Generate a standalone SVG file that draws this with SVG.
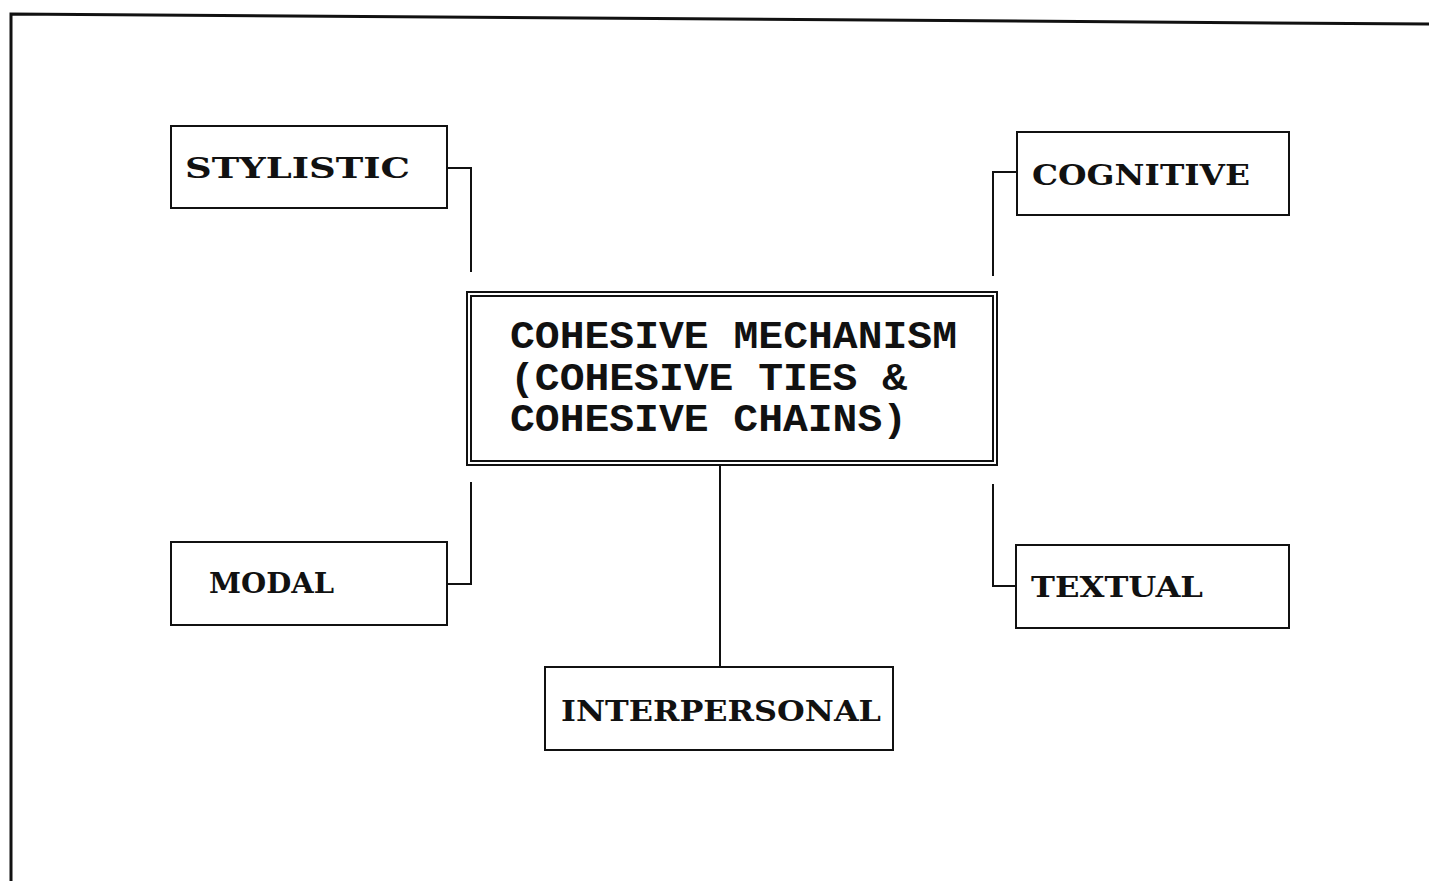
<svg xmlns="http://www.w3.org/2000/svg" width="1429" height="881" viewBox="0 0 1429 881">
<style>
.box{fill:#fff;stroke:#111;stroke-width:2}
.lbl{font-family:"DejaVu Serif","Liberation Serif",serif;font-weight:bold;font-size:28px;fill:#111}
.mono{font-family:"Liberation Mono","Courier New",monospace;font-weight:bold;font-size:38px;fill:#111}
.con{fill:none;stroke:#111;stroke-width:2}
</style>
<rect width="1429" height="881" fill="#fff"/>
<g id="frame">
<path d="M11,881 L11,14 L1429,24" fill="none" stroke="#111" stroke-width="3"/>
</g>
<g id="connectors">
<path class="con" d="M447,168 H471 V272"/>
<path class="con" d="M1017,172 H993 V276"/>
<path class="con" d="M471,482 V584 H447"/>
<path class="con" d="M993,484 V586 H1016"/>
<path class="con" d="M720,465 V667"/>
</g>
<g id="center">
<rect class="box" x="467" y="292" width="530" height="173"/>
<rect class="box" x="471" y="296" width="522" height="165"/>
<text class="mono" x="510" y="348" textLength="447" lengthAdjust="spacingAndGlyphs">COHESIVE MECHANISM</text>
<text class="mono" x="510" y="390" textLength="397" lengthAdjust="spacingAndGlyphs">(COHESIVE TIES &amp;</text>
<text class="mono" x="510" y="431" textLength="397" lengthAdjust="spacingAndGlyphs">COHESIVE CHAINS)</text>
</g>
<g id="stylistic">
<rect class="box" x="171" y="126" width="276" height="82"/>
<text class="lbl" x="185" y="178" textLength="225" lengthAdjust="spacingAndGlyphs">STYLISTIC</text>
</g>
<g id="cognitive">
<rect class="box" x="1017" y="132" width="272" height="83"/>
<text class="lbl" x="1032" y="185" textLength="218" lengthAdjust="spacingAndGlyphs">COGNITIVE</text>
</g>
<g id="modal">
<rect class="box" x="171" y="542" width="276" height="83"/>
<text class="lbl" x="209" y="593" textLength="125" lengthAdjust="spacingAndGlyphs">MODAL</text>
</g>
<g id="textual">
<rect class="box" x="1016" y="545" width="273" height="83"/>
<text class="lbl" x="1031" y="597" textLength="172" lengthAdjust="spacingAndGlyphs">TEXTUAL</text>
</g>
<g id="interpersonal">
<rect class="box" x="545" y="667" width="348" height="83"/>
<text class="lbl" x="561" y="721" textLength="320" lengthAdjust="spacingAndGlyphs">INTERPERSONAL</text>
</g>
</svg>
